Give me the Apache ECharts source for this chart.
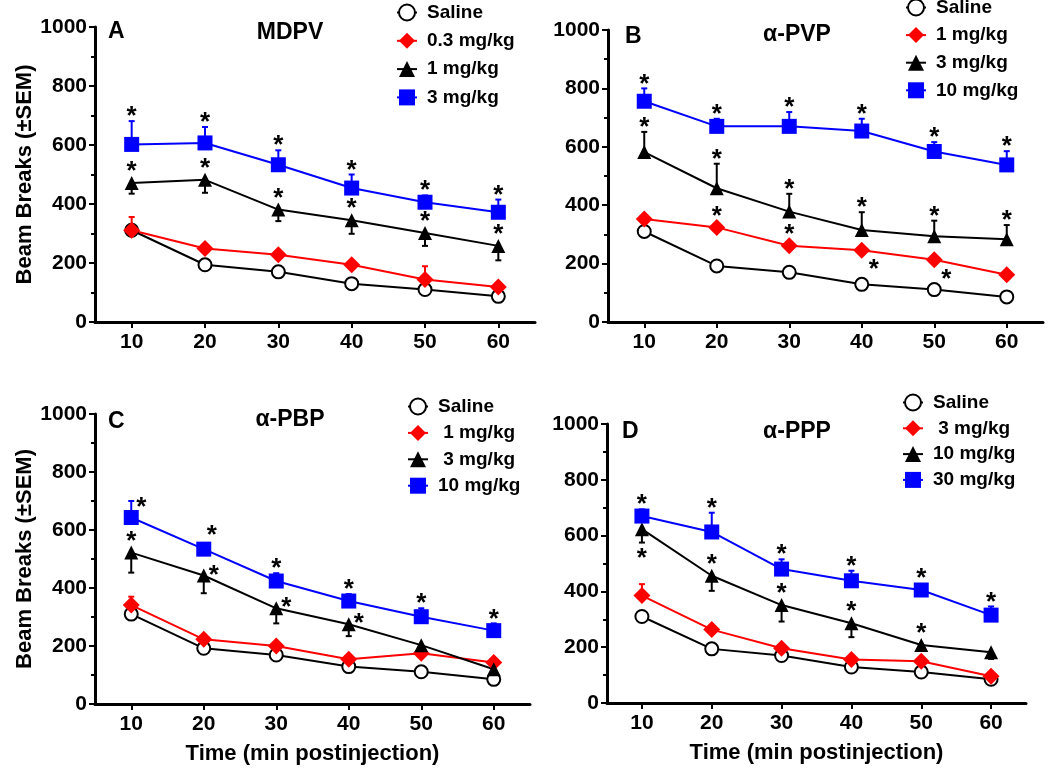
<!DOCTYPE html>
<html><head><meta charset="utf-8">
<script src="https://cdn.jsdelivr.net/npm/echarts@6/dist/echarts.min.js"></script>
<style>html,body{margin:0;padding:0;background:#fff}#c{width:1050px;height:775px}</style>
</head><body><div id="c"></div>
<script>
// ---------------- DATA ----------------
const timePoints = [10, 20, 30, 40, 50, 60];
const yTickValues = [0, 200, 400, 600, 800, 1000];
const panelLetters = ['A', 'B', 'C', 'D'];
const drugNames = ['MDPV', 'α-PVP', 'α-PBP', 'α-PPP'];
const yAxisTitle = 'Beam Breaks (±SEM)';
const xAxisTitle = 'Time (min postinjection)';

const legendMDPV = ['Saline', '0.3 mg/kg', '1 mg/kg', '3 mg/kg'];
const legendPVP  = ['Saline', '1 mg/kg', '3 mg/kg', '10 mg/kg'];
const legendPBP  = ['Saline', ' 1 mg/kg', ' 3 mg/kg', '10 mg/kg'];
const legendPPP  = ['Saline', ' 3 mg/kg', '10 mg/kg', '30 mg/kg'];

// Panel A: MDPV
const mdpvSaline = [311, 194, 170, 130, 110, 87];
const mdpvLow    = [311, 249, 228, 194, 144, 119];
const mdpvMid    = [471, 482, 381, 345, 302, 258];
const mdpvHigh   = [602, 607, 533, 454, 406, 372];
const mdpvSalineSem = [8, 8, 8, 8, 8, 8];
const mdpvLowSem    = [45, 10, 10, 12, 45, 10];
const mdpvMidSem    = [-36, -44, -39, -46, -44, -49];
const mdpvHighSem   = [79, 54, 49, 46, 23, 43];
const mdpvLowSig  = [0, 0, 0, 0, 0, 0];
const mdpvMidSig  = [1, 1, 1, 1, 1, 1];
const mdpvHighSig = [1, 1, 1, 1, 1, 1];

// Panel B: alpha-PVP
const pvpSaline = [310, 192, 170, 129, 111, 86];
const pvpLow    = [353, 324, 261, 246, 213, 162];
const pvpMid    = [582, 458, 378, 315, 294, 283];
const pvpHigh   = [756, 670, 670, 654, 584, 538];
const pvpSalineSem = [8, 8, 8, 8, 8, 8];
const pvpLowSem    = [10, 10, 10, 10, 10, 10];
const pvpMidSem    = [69, 84, 61, 61, 53, 49];
const pvpHighSem   = [44, 26, 49, 42, 32, 47];
const pvpLowSig  = [0, 1, 1, 1, 1, 0];
const pvpMidSig  = [1, 1, 1, 1, 1, 1];
const pvpHighSig = [1, 1, 1, 1, 1, 1];

// Panel C: alpha-PBP
const pbpSaline = [310, 192, 169, 129, 111, 85];
const pbpLow    = [341, 223, 200, 154, 175, 143];
const pbpMid    = [522, 443, 330, 275, 203, 120];
const pbpHigh   = [643, 534, 424, 355, 301, 253];
const pbpSalineSem = [8, 8, 8, 8, 8, 8];
const pbpLowSem    = [29, 10, 10, 10, -10, 10];
const pbpMidSem    = [-69, -61, -52, -41, -28, -10];
const pbpHighSem   = [57, 20, 27, 24, 29, 25];
const pbpLowSig  = [0, 0, 0, 0, 0, 0];
const pbpMidSig  = [1, 1, 1, 1, 0, 0];
const pbpHighSig = [1, 1, 1, 1, 1, 1];

// Panel D: alpha-PPP
const pppSaline = [310, 194, 170, 129, 111, 85];
const pppLow    = [385, 263, 196, 156, 150, 96];
const pppMid    = [623, 456, 351, 286, 208, 182];
const pppHigh   = [670, 613, 480, 438, 405, 315];
const pppSalineSem = [8, 8, 8, 8, 8, 8];
const pppLowSem    = [41, 10, 10, 10, 10, 10];
const pppMidSem    = [-48, -54, -59, -50, -10, -24];
const pppHighSem   = [24, 69, 35, 36, 10, 31];
const pppLowSig  = [0, 0, 0, 0, 0, 0];
const pppMidSig  = [1, 1, 1, 1, 1, 0];
const pppHighSig = [1, 1, 1, 1, 1, 1];

// ---------------- STYLE / LAYOUT ----------------
const FONT = "'Liberation Sans', Arial, sans-serif";
const grids = [
  { left: 95,  top: 27,  width: 440, height: 295 },
  { left: 608, top: 30,  width: 435, height: 292 },
  { left: 95,  top: 414, width: 435, height: 290 },
  { left: 607, top: 424, width: 419, height: 279 }
];
const legendPos = [
  { left: 396, top: 3,   itemGap: 9.3 },
  { left: 905, top: -2,  itemGap: 8.6 },
  { left: 407, top: 397, itemGap: 7.4 },
  { left: 902, top: 393, itemGap: 6.8 }
];
const letterPos = [[108, 33], [625, 38], [108, 423], [622, 433]];
const drugPos   = [[290, 33], [797, 35], [290, 420], [797, 432]];
const groupStyles = [
  { symbol: 'circle',   size: 13, fill: '#ffffff', stroke: '#000000', line: '#000000' },
  { symbol: 'diamond',  size: 17, fill: '#ff0000', stroke: '#ff0000', line: '#ff0000' },
  { symbol: 'triangle', size: 14, fill: '#000000', stroke: '#000000', line: '#000000' },
  { symbol: 'rect',     size: 15, fill: '#0000ff', stroke: '#0000ff', line: '#0000ff' }
];
// asterisk placement (default above)
const starPlacement = {
  '1-1-3': 'br', '1-1-4': 'br',
  '2-3-0': 'r', '2-3-1': 'ar',
  '2-2-1': 'r', '2-2-2': 'r', '2-2-3': 'r',
  '3-2-0': 'b'
};

const panels = [
  { legend: legendMDPV, vals: [mdpvSaline, mdpvLow, mdpvMid, mdpvHigh], sems: [mdpvSalineSem, mdpvLowSem, mdpvMidSem, mdpvHighSem], sig: [null, mdpvLowSig, mdpvMidSig, mdpvHighSig] },
  { legend: legendPVP,  vals: [pvpSaline, pvpLow, pvpMid, pvpHigh],     sems: [pvpSalineSem, pvpLowSem, pvpMidSem, pvpHighSem],     sig: [null, pvpLowSig, pvpMidSig, pvpHighSig] },
  { legend: legendPBP,  vals: [pbpSaline, pbpLow, pbpMid, pbpHigh],     sems: [pbpSalineSem, pbpLowSem, pbpMidSem, pbpHighSem],     sig: [null, pbpLowSig, pbpMidSig, pbpHighSig] },
  { legend: legendPPP,  vals: [pppSaline, pppLow, pppMid, pppHigh],     sems: [pppSalineSem, pppLowSem, pppMidSem, pppHighSem],     sig: [null, pppLowSig, pppMidSig, pppHighSig] }
];

const series = [];
const xAxes = [], yAxes = [], legends = [], graphics = [];

panels.forEach((panel, p) => {
  xAxes.push({
    type: 'value', gridIndex: p, min: 5, max: 65,
    axisLine: { lineStyle: { color: '#000', width: 3 } },
    axisTick: { show: true, length: 6, lineStyle: { color: '#000', width: 2 }, customValues: timePoints },
    axisLabel: { color: '#000', fontFamily: FONT, fontWeight: 'bold', fontSize: 21, margin: 10, customValues: timePoints },
    splitLine: { show: false },
    name: (p >= 2) ? xAxisTitle : '',
    nameLocation: 'middle', nameGap: 39,
    nameTextStyle: { color: '#000', fontFamily: FONT, fontWeight: 'bold', fontSize: 22 }
  });
  yAxes.push({
    type: 'value', gridIndex: p, min: 0, max: 1000, interval: 200,
    axisLine: { show: true, lineStyle: { color: '#000', width: 3 } },
    axisTick: { show: true, length: 6, lineStyle: { color: '#000', width: 2 } },
    minorTick: { show: true, splitNumber: 2, length: 4, lineStyle: { color: '#000', width: 2 } },
    axisLabel: { color: '#000', fontFamily: FONT, fontWeight: 'bold', fontSize: 21, margin: 8, formatter: v => String(v) },
    splitLine: { show: false },
    name: (p % 2 === 0) ? yAxisTitle : '',
    nameLocation: 'middle', nameRotate: 90, nameGap: 56,
    nameTextStyle: { color: '#000', fontFamily: FONT, fontWeight: 'bold', fontSize: 22 }
  });

  const names = panel.legend.map(l => p + '|' + l);
  legends.push({
    orient: 'vertical', left: legendPos[p].left, top: legendPos[p].top, padding: 0,
    itemGap: legendPos[p].itemGap, itemWidth: 20, itemHeight: 20,
    data: names, selectedMode: false,
    formatter: n => n.split('|')[1],
    textStyle: { color: '#000', fontFamily: FONT, fontWeight: 'bold', fontSize: 19, padding: [0, 0, 0, 5] }
  });

  panel.vals.forEach((vals, g) => {
    const st = groupStyles[g];
    const sems = panel.sems[g];
    // error bars
    const errData = timePoints.map((t, i) => [t, vals[i], sems[i]]);
    series.push({
      type: 'custom', xAxisIndex: p, yAxisIndex: p, z: 2, silent: true,
      data: errData,
      renderItem: (params, api) => {
        const x = api.value(0), y = api.value(1), e = api.value(2);
        const c = api.coord([x, y]);
        const ce = api.coord([x, y + e]);
        return {
          type: 'group', children: [
            { type: 'line', shape: { x1: c[0], y1: c[1], x2: ce[0], y2: ce[1] }, style: { stroke: st.line, lineWidth: 2 } },
            { type: 'line', shape: { x1: ce[0] - 3, y1: ce[1], x2: ce[0] + 3, y2: ce[1] }, style: { stroke: st.line, lineWidth: 2 } }
          ]
        };
      }
    });
    // means
    series.push({
      type: 'line', name: names[g], xAxisIndex: p, yAxisIndex: p, z: 3,
      data: timePoints.map((t, i) => [t, vals[i]]),
      symbol: st.symbol, symbolSize: st.size, showAllSymbol: true,
      itemStyle: { color: st.fill, borderColor: st.stroke, borderWidth: g === 0 ? 2 : 0, opacity: 1 },
      lineStyle: { color: st.line, width: 2 },
      emphasis: { disabled: true }, animation: false
    });
    // asterisks
    const flags = panel.sig[g];
    if (flags) {
      const items = [];
      timePoints.forEach((t, i) => {
        if (flags[i]) items.push({ value: [t, vals[i], sems[i]], place: starPlacement[p + '-' + g + '-' + i] || 'a' });
      });
      series.push({
        type: 'custom', xAxisIndex: p, yAxisIndex: p, z: 5, silent: true,
        data: items.map(it => it.value),
        renderItem: (params, api) => {
          const it = items[params.dataIndex];
          const x = api.value(0), y = api.value(1), e = api.value(2);
          const c = api.coord([x, y]);
          const ce = api.coord([x, y + e]);
          const half = 7;
          const top = Math.min(c[1] - half, e > 0 ? ce[1] : Infinity);
          const bottom = Math.max(c[1] + half, e < 0 ? ce[1] : -Infinity);
          let px = c[0], py;
          switch (it.place) {
            case 'r': px += 10; py = top + 1; break;
            case 'ar': px += 8; py = top - 12; break;
            case 'b': py = bottom + 10; break;
            case 'br': px += 12; py = c[1] + 14; break;
            default: py = top - 10;
          }
          return { type: 'text', x: px, y: py + 6, style: { text: '*', fill: '#000', font: 'bold 26px ' + FONT, align: 'center', verticalAlign: 'middle' } };
        }
      });
    }
  });

  graphics.push({ type: 'text', left: letterPos[p][0], top: letterPos[p][1] - 13,
    style: { text: panelLetters[p], fill: '#000', font: 'bold 23px ' + FONT } });
  graphics.push({ type: 'text', x: drugPos[p][0], y: drugPos[p][1],
    style: { text: drugNames[p], fill: '#000', font: 'bold 23px ' + FONT, align: 'center', verticalAlign: 'middle' } });
});

const chart = echarts.init(document.getElementById('c'), null, { renderer: 'canvas' });
chart.setOption({
  animation: false,
  backgroundColor: '#fff',
  grid: grids,
  xAxis: xAxes,
  yAxis: yAxes,
  legend: legends,
  series: series,
  graphic: graphics
});
</script>
</body></html>
